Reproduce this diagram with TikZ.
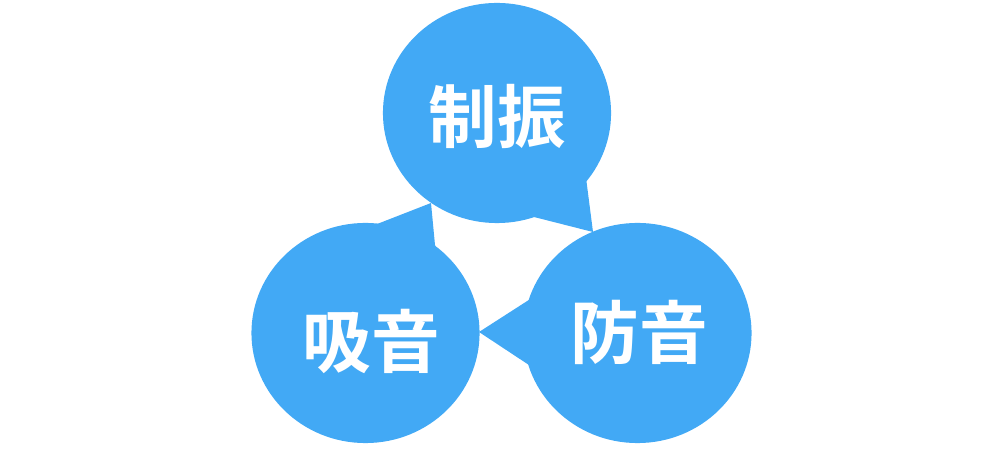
\documentclass[tikz,border=0pt]{standalone}
\usepackage{fontspec}
\newfontfamily\jpfont{Noto Sans CJK JP Bold}
\usepackage{tikz}
\usetikzlibrary{shapes.geometric}
\definecolor{bubbleblue}{HTML}{42A9F5}
\tikzset{
  bubble/.style={ellipse,fill=bubbleblue,inner sep=0pt,minimum width=2.28cm,minimum height=2.2cm},
  word/.style={text=white,font=\jpfont\fontsize{19.5pt}{20pt}\selectfont,inner sep=0pt}
}

\begin{document}
\begin{tikzpicture}[line cap=round,line join=round,x=0.01cm,y=-0.01cm]
                  \useasboundingbox (0,0) rectangle (1000,449);
                  % bubbles
                  \node[bubble] (seishin) at (497,113) {};
                  \node[bubble] (kyuon) at (365.5,333) {};
                  \node[bubble] (boon) at (637.5,333) {};
                  % tails
                  \fill[bubbleblue] (585,170) -- (593,232) -- (530,216) -- cycle;
                  \fill[bubbleblue] (372,226) -- (431,203) -- (435,245) -- (440,260) -- cycle;
                  \fill[bubbleblue] (535,296) -- (479,332) -- (535,369) -- cycle;
                  % labels
                  \node[word] (seishintext) at (497,116) {制振};
                  \node[word] (kyuontext) at (371,341) {吸音};
                  \node[word] (boontext) at (639,332) {防音};
              \end{tikzpicture}
\end{document}
